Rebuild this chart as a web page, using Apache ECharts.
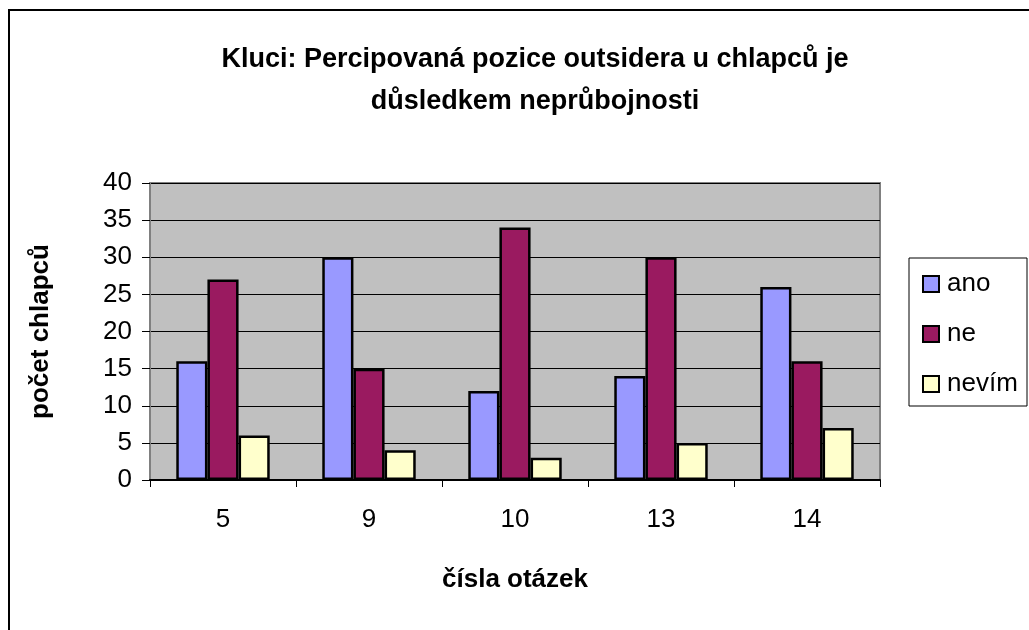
<!DOCTYPE html>
<html>
<head>
<meta charset="utf-8">
<script src="https://cdn.jsdelivr.net/npm/echarts@6/dist/echarts.min.js"></script>
<style>
  html, body { margin: 0; padding: 0; background: #fff; }
  #chart { width: 1029px; height: 630px; }
</style>
</head>
<body>
<div id="chart"></div>
<script>
// čísla otázek
var categories = ['5', '9', '10', '13', '14'];
var ano = [16, 30, 12, 14, 26];
var ne = [27, 15, 34, 30, 16];
var nevim = [6, 4, 3, 5, 7];

var font = '"Liberation Sans", Arial, sans-serif';

var myChart = echarts.init(document.getElementById('chart'));
var option;

function bar(name, color, data) {
    return {
        name: name,
        type: 'bar',
        data: data,
        barGap: 0,
        barCategoryGap: '36%',
        itemStyle: {
            color: color,
            borderColor: '#000',
            borderWidth: 2.5
        }
    };
}

option = {
    animation: false,
    backgroundColor: '#fff',
    title: {
        text: 'Kluci: Percipovaná pozice outsidera u chlapců je\ndůsledkem neprůbojnosti',
        left: 530,
        textAlign: 'center',
        top: 34,
        textStyle: {
            fontFamily: font,
            fontWeight: 'bold',
            fontSize: 27,
            lineHeight: 42,
            color: '#000'
        }
    },
    graphic: [
        // outer frame (top and left edges only are visible)
        { type: 'line', shape: { x1: 8, y1: 10, x2: 1029, y2: 10 }, style: { stroke: '#000', lineWidth: 2 } },
        { type: 'line', shape: { x1: 9, y1: 10, x2: 9, y2: 630 }, style: { stroke: '#000', lineWidth: 2 } },
        // legend box
        { type: 'rect', shape: { x: 909, y: 258, width: 118, height: 148 }, style: { fill: '#fff', stroke: '#000', lineWidth: 1 }, z: 0 }
    ],
    legend: {
        orient: 'vertical',
        left: 917,
        top: 266,
        itemWidth: 16,
        itemHeight: 16,
        itemGap: 24,
        icon: 'rect',
        itemStyle: { borderColor: '#000', borderWidth: 2 },
        textStyle: { fontFamily: font, fontSize: 26, color: '#000', padding: [0, 0, 0, 3] },
        z: 5
    },
    grid: {
        left: 150,
        right: 149,
        top: 183,
        bottom: 150,
        show: true,
        backgroundColor: '#C0C0C0',
        borderColor: '#808080',
        borderWidth: 2
    },
    xAxis: {
        type: 'category',
        data: categories,
        name: 'čísla otázek',
        nameLocation: 'middle',
        nameGap: 87,
        nameTextStyle: { fontFamily: font, fontWeight: 'bold', fontSize: 26, color: '#000' },
        axisLine: { lineStyle: { color: '#000', width: 2 } },
        axisTick: { show: true, length: 7, lineStyle: { color: '#000' } },
        axisLabel: { fontFamily: font, fontSize: 26, color: '#000', margin: 27 }
    },
    yAxis: {
        type: 'value',
        min: 0,
        max: 40,
        interval: 5,
        name: 'počet chlapců',
        nameLocation: 'middle',
        nameGap: 96,
        nameTextStyle: { fontFamily: font, fontWeight: 'bold', fontSize: 26, color: '#000' },
        axisLine: { show: true, lineStyle: { color: '#808080', width: 2 } },
        axisTick: { show: true, length: 8, lineStyle: { color: '#000' } },
        axisLabel: { fontFamily: font, fontSize: 26, color: '#000', margin: 18 },
        splitLine: { lineStyle: { color: '#000', width: 1 } }
    },
    series: [
        bar('ano', '#9999FF', ano),
        bar('ne', '#9A1A60', ne),
        bar('nevím', '#FFFFCC', nevim)
    ]
};

myChart.setOption(option);
window.addEventListener('resize', function () { myChart.resize(); });
</script>
</body>
</html>
